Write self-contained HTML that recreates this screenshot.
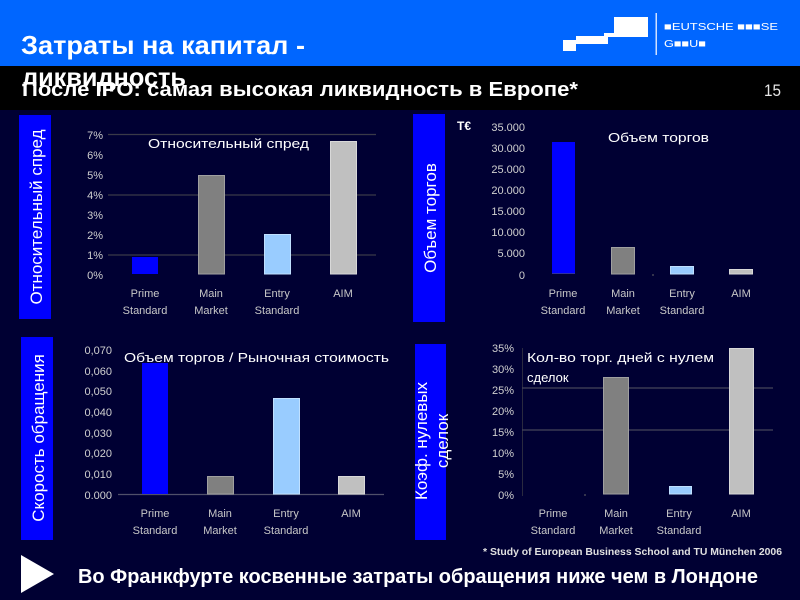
<!DOCTYPE html>
<html>
<head>
<meta charset="utf-8">
<style>
html,body{margin:0;padding:0;background:#000033;}
svg{display:block;}
text{font-family:"Liberation Sans","DejaVu Sans",sans-serif;}
</style>
</head>
<body>
<svg width="800" height="600" viewBox="0 0 800 600" xmlns="http://www.w3.org/2000/svg">
  <!-- backgrounds -->
  <rect x="0" y="0" width="800" height="600" fill="#000033"/>
  <rect x="0" y="66" width="800" height="44" fill="#000000"/>
  <rect x="0" y="0" width="800" height="66" fill="#0066ff"/>

  <!-- logo -->
  <polygon points="563,40 576,40 576,36 604,36 604,33 614,33 614,17 648,17 648,37 608,37 608,44 576,44 576,51 563,51" fill="#ffffff"/>
  <rect x="655.5" y="13" width="1.5" height="42" fill="#cfe0ff"/>
  <text x="664" y="30" font-size="10.5" fill="#ffffff" textLength="114" lengthAdjust="spacingAndGlyphs">■EUTSCHE ■■■SE</text>
  <text x="664" y="47" font-size="10.5" fill="#ffffff" textLength="42" lengthAdjust="spacingAndGlyphs">G■■U■</text>

  <!-- titles -->
  <text x="21" y="54" font-size="26" font-weight="bold" fill="#ffffff" textLength="284" lengthAdjust="spacingAndGlyphs">Затраты на капитал -</text>
  <text x="22" y="86" font-size="26" font-weight="bold" fill="#ffffff" textLength="164" lengthAdjust="spacingAndGlyphs">ликвидность</text>
  <text x="22" y="96" font-size="20" font-weight="bold" fill="#ffffff" textLength="556" lengthAdjust="spacingAndGlyphs">После IPO: самая высокая ликвидность в Европе*</text>
  <text x="764" y="96" font-size="17" fill="#e6e6e6" textLength="17" lengthAdjust="spacingAndGlyphs">15</text>

  <!-- ============ Panel 1 ============ -->
  <rect x="19" y="115" width="32" height="204" fill="#0000ff"/>
  <text transform="translate(42,217) rotate(-90)" text-anchor="middle" font-size="17" fill="#ffffff">Относительный спред</text>
  <g stroke="#3a3a48" stroke-width="1.2">
    <line x1="108" y1="134.5" x2="376" y2="134.5"/>
    <line x1="108" y1="195" x2="376" y2="195"/>
    <line x1="108" y1="255" x2="376" y2="255"/>
  </g>
  <g font-size="11" fill="#d0d0d0" text-anchor="end">
    <text x="103" y="139">7%</text>
    <text x="103" y="159">6%</text>
    <text x="103" y="179">5%</text>
    <text x="103" y="199">4%</text>
    <text x="103" y="219">3%</text>
    <text x="103" y="239">2%</text>
    <text x="103" y="259">1%</text>
    <text x="103" y="279">0%</text>
  </g>
  <rect x="132" y="257" width="26" height="17" fill="#0000ff"/>
  <rect x="198.5" y="175.5" width="26" height="98.5" fill="#808080" stroke="#a0a0a0" stroke-width="1"/>
  <rect x="264.5" y="234.5" width="26" height="39.5" fill="#99ccff" stroke="#c0e0ff" stroke-width="1"/>
  <rect x="330.5" y="141.5" width="26" height="132.5" fill="#c0c0c0" stroke="#d8d8d8" stroke-width="1"/>
  <text x="148" y="148" font-size="13" fill="#ffffff" textLength="161" lengthAdjust="spacingAndGlyphs">Относительный спред</text>
  <g font-size="11" fill="#c8c8c8" text-anchor="middle">
    <text x="145" y="297">Prime</text><text x="145" y="314">Standard</text>
    <text x="211" y="297">Main</text><text x="211" y="314">Market</text>
    <text x="277" y="297">Entry</text><text x="277" y="314">Standard</text>
    <text x="343" y="297">AIM</text>
  </g>

  <!-- ============ Panel 2 ============ -->
  <rect x="413" y="114" width="32" height="208" fill="#0000ff"/>
  <text transform="translate(436,218) rotate(-90)" text-anchor="middle" font-size="17" fill="#ffffff">Объем торгов</text>
  <text x="457" y="130" font-size="12" font-weight="bold" fill="#ffffff">T€</text>
  <g font-size="11" fill="#d0d0d0" text-anchor="end">
    <text x="525" y="131">35.000</text>
    <text x="525" y="152">30.000</text>
    <text x="525" y="173">25.000</text>
    <text x="525" y="194">20.000</text>
    <text x="525" y="215">15.000</text>
    <text x="525" y="236">10.000</text>
    <text x="525" y="257">5.000</text>
    <text x="525" y="279">0</text>
  </g>
  <rect x="552" y="142" width="23" height="132" fill="#0000ff"/>
  <line x1="552" y1="273.5" x2="575" y2="273.5" stroke="#3030a0" stroke-width="1"/>
  <rect x="611.5" y="247.5" width="23" height="26.5" fill="#808080" stroke="#a0a0a0" stroke-width="1"/>
  <rect x="670.5" y="266.5" width="23" height="7.5" fill="#99ccff" stroke="#c0e0ff" stroke-width="1"/>
  <rect x="729.5" y="269.5" width="23" height="4.5" fill="#c0c0c0" stroke="#d8d8d8" stroke-width="1"/>
  <rect x="652.5" y="274" width="1" height="2" fill="#666"/>
  <text x="608" y="142" font-size="13" fill="#ffffff" textLength="101" lengthAdjust="spacingAndGlyphs">Объем торгов</text>
  <g font-size="11" fill="#c8c8c8" text-anchor="middle">
    <text x="563" y="297">Prime</text><text x="563" y="314">Standard</text>
    <text x="623" y="297">Main</text><text x="623" y="314">Market</text>
    <text x="682" y="297">Entry</text><text x="682" y="314">Standard</text>
    <text x="741" y="297">AIM</text>
  </g>

  <!-- ============ Panel 3 ============ -->
  <rect x="21" y="337" width="32" height="203" fill="#0000ff"/>
  <text transform="translate(44,438) rotate(-90)" text-anchor="middle" font-size="17" fill="#ffffff">Скорость обращения</text>
  <g font-size="11" fill="#d0d0d0" text-anchor="end">
    <text x="112" y="354">0,070</text>
    <text x="112" y="375">0,060</text>
    <text x="112" y="395">0,050</text>
    <text x="112" y="416">0,040</text>
    <text x="112" y="437">0,030</text>
    <text x="112" y="457">0,020</text>
    <text x="112" y="478">0,010</text>
    <text x="112" y="499">0.000</text>
  </g>
  <line x1="118" y1="494.5" x2="384" y2="494.5" stroke="#50506a" stroke-width="1.2"/>
  <rect x="142" y="363" width="26" height="131" fill="#0000ff"/>
  <rect x="207.5" y="476.5" width="26" height="17.5" fill="#808080" stroke="#a0a0a0" stroke-width="1"/>
  <rect x="273.5" y="398.5" width="26" height="95.5" fill="#99ccff" stroke="#c0e0ff" stroke-width="1"/>
  <rect x="338.5" y="476.5" width="26" height="17.5" fill="#c0c0c0" stroke="#d8d8d8" stroke-width="1"/>
  <text x="124" y="362" font-size="13" fill="#ffffff" textLength="265" lengthAdjust="spacingAndGlyphs">Объем торгов / Рыночная стоимость</text>
  <g font-size="11" fill="#c8c8c8" text-anchor="middle">
    <text x="155" y="517">Prime</text><text x="155" y="534">Standard</text>
    <text x="220" y="517">Main</text><text x="220" y="534">Market</text>
    <text x="286" y="517">Entry</text><text x="286" y="534">Standard</text>
    <text x="351" y="517">AIM</text>
  </g>

  <!-- ============ Panel 4 ============ -->
  <rect x="415" y="344" width="31" height="196" fill="#0000ff"/>
  <text transform="translate(427,441) rotate(-90)" text-anchor="middle" font-size="17" fill="#ffffff">Коэф. нулевых</text>
  <text transform="translate(448,441) rotate(-90)" text-anchor="middle" font-size="17" fill="#ffffff">сделок</text>
  <g font-size="11" fill="#d0d0d0" text-anchor="end">
    <text x="514" y="352">35%</text>
    <text x="514" y="373">30%</text>
    <text x="514" y="394">25%</text>
    <text x="514" y="415">20%</text>
    <text x="514" y="436">15%</text>
    <text x="514" y="457">10%</text>
    <text x="514" y="478">5%</text>
    <text x="514" y="499">0%</text>
  </g>
  <line x1="522.5" y1="348" x2="522.5" y2="496" stroke="#2a2a40" stroke-width="1"/>
  <g stroke="#45455a" stroke-width="1.2">
    <line x1="522" y1="388" x2="773" y2="388"/>
    <line x1="522" y1="430" x2="773" y2="430"/>
  </g>
  <rect x="584.5" y="494" width="1" height="2" fill="#666"/>
  <rect x="603.5" y="377.5" width="25" height="116.5" fill="#808080" stroke="#a0a0a0" stroke-width="1"/>
  <rect x="669.5" y="486.5" width="22" height="7.5" fill="#99ccff" stroke="#c0e0ff" stroke-width="1"/>
  <rect x="729.5" y="348.5" width="24" height="145.5" fill="#c0c0c0" stroke="#d8d8d8" stroke-width="1"/>
  <text x="527" y="362" font-size="13" fill="#ffffff" textLength="187" lengthAdjust="spacingAndGlyphs">Кол-во торг. дней с нулем</text>
  <text x="527" y="382" font-size="13" fill="#ffffff">сделок</text>
  <g font-size="11" fill="#c8c8c8" text-anchor="middle">
    <text x="553" y="517">Prime</text><text x="553" y="534">Standard</text>
    <text x="616" y="517">Main</text><text x="616" y="534">Market</text>
    <text x="679" y="517">Entry</text><text x="679" y="534">Standard</text>
    <text x="741" y="517">AIM</text>
  </g>

  <!-- footnote -->
  <text x="483" y="555" font-size="10" font-weight="bold" fill="#e0e0e0" textLength="299" lengthAdjust="spacingAndGlyphs">* Study of European Business School and TU München 2006</text>

  <!-- bottom -->
  <polygon points="21,555 54,574 21,593" fill="#ffffff"/>
  <text x="78" y="583" font-size="20" font-weight="bold" fill="#ffffff" textLength="680" lengthAdjust="spacingAndGlyphs">Во Франкфурте косвенные затраты обращения ниже чем в Лондоне</text>
</svg>
</body>
</html>
